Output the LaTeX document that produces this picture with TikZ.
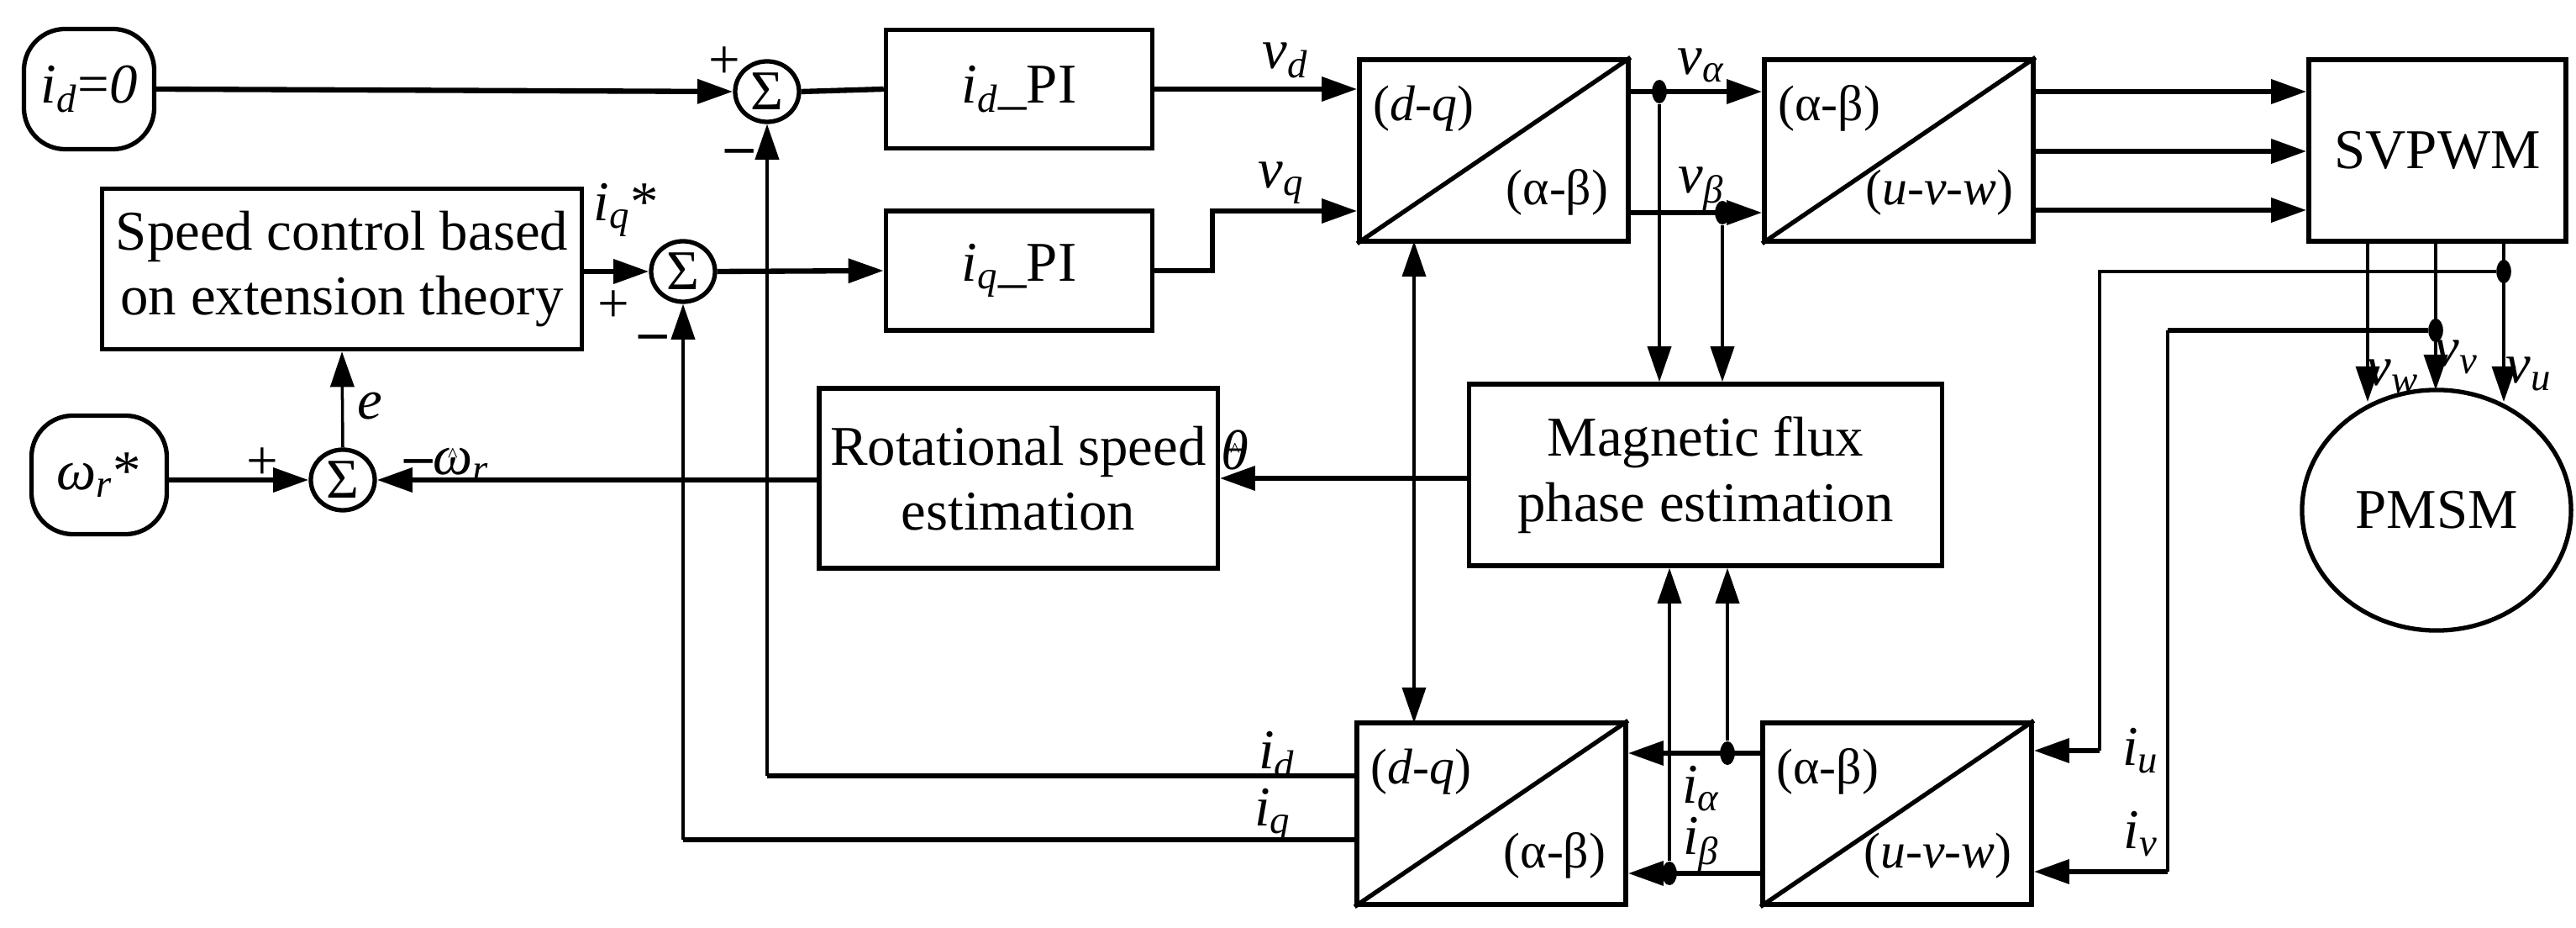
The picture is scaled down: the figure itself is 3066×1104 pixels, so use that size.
\documentclass[tikz,border=0pt]{standalone}
\usepackage{fontspec}
\setmainfont{Liberation Serif}
\usetikzlibrary{arrows.meta,shapes.geometric}
\newcommand{\vr}[2]{\textit{#1}\textsubscript{\textit{#2}}}
\newcommand{\hatc}[1]{\ooalign{\textit{#1}\cr\hidewidth\raisebox{0.22em}{\scriptsize\^{}}\hidewidth\cr}}
\begin{document}
\begin{tikzpicture}[x=0.01cm,y=-0.01cm,
  font=\fontsize{19}{22}\selectfont,
  blk/.style={draw,line width=1.5pt,inner sep=0pt},
  thk/.style={line width=1.8pt},
  thn/.style={line width=1pt},
  arr/.style={-{Triangle[length=12pt,width=8pt]}},
  sm/.style={draw,line width=1.5pt,ellipse,minimum width=0.76cm,minimum height=0.72cm,inner sep=0pt},
  dot/.style={ellipse,fill,inner sep=0pt,minimum width=5pt,minimum height=8pt},
  tf/.style={font=\fontsize{17}{20}\selectfont}]
\useasboundingbox (0,0) rectangle (3066,1104);
% boxes
\node[blk,rounded corners=14pt,minimum width=1.55cm,minimum height=1.43cm] (id0) at (106,106) {\vr{i}{d}=\textit{0}};
\node[blk,rounded corners=14pt,minimum width=1.61cm,minimum height=1.41cm] (wr) at (118,565) {\vr{ω}{r}*};
\node[sm] (s1) at (913,109) {Σ};
\node[sm] (s2) at (813,323) {Σ};
\node[sm] (s3) at (408,571) {Σ};
\node[blk,minimum width=3.17cm,minimum height=1.41cm] (pid) at (1213,106) {\vr{i}{d}\_PI};
\node[blk,minimum width=3.17cm,minimum height=1.42cm] (piq) at (1213,322) {\vr{i}{q}\_PI};
\node[blk,minimum width=5.71cm,minimum height=1.91cm,align=center] (sc) at (407,320) {Speed control based\\on extension theory};
\node[blk,minimum width=4.74cm,minimum height=2.14cm,align=center] (rs) at (1212,569) {Rotational speed\\estimation};
\node[blk,minimum width=5.63cm,minimum height=2.16cm,align=center] (mf) at (2030,565) {Magnetic flux\\phase estimation};
\node[blk,minimum width=3.06cm,minimum height=2.16cm] (svp) at (2901,179) {SVPWM};
\node[blk,ellipse,minimum width=3.2cm,minimum height=2.86cm] (pm) at (2900,607) {PMSM};
% transform boxes
\foreach \n/\cx/\cy/\a/\b in {t1/1778/179/{(\textit{d}-\textit{q})}/{(α-β)},t2/2260/179/{(α-β)}/{(\textit{u}-\textit{v}-\textit{w})},t3/1775/968/{(\textit{d}-\textit{q})}/{(α-β)},t4/2258/968/{(α-β)}/{(\textit{u}-\textit{v}-\textit{w})}}{
  \node[blk,minimum width=3.2cm,minimum height=2.16cm] (\n) at (\cx,\cy) {};
  \draw[line width=1.5pt] (\n.south west) -- (\n.north east);
  \node[tf,anchor=north west] at ([xshift=2,yshift=-6]\n.north west) {\a};
  \node[tf,anchor=south east] at ([xshift=-4,yshift=6]\n.south east) {\b};
}
% top path
\draw[thk,arr] (id0.east) -- (s1.west);
\draw[thk] (s1.east) -- (pid.west);
\draw[thk,arr] (pid.east) -- (pid.east -| t1.west);
\coordinate (q1) at (1443,322); \coordinate (q2) at (1443,251);
\draw[thk,arr] (piq.east) -- (q1) -- (q2) -- (q2 -| t1.west);
\draw[thk,arr] (sc.east |- s2) -- (s2.west);
\draw[thk,arr] (s2.east) -- (piq.west);
\draw[thk,arr] (wr.east |- s3) -- (s3.west);
\draw[thn,arr] (s3.north) -- (sc.south);
\draw[thk,arr] (rs.west |- s3) -- (s3.east);
\draw[thk,arr] (mf.west |- rs) -- (rs.east);
% va vb
\node[dot] (da) at (1975,109) {};
\node[dot] (db) at (2050,253) {};
\draw[thk,arr] (t1.east |- da) -- (t2.west |- da);
\draw[thk,arr] (t1.east |- db) -- (t2.west |- db);
\draw[thn,arr] (da) -- (da |- mf.north);
\draw[thn,arr] (db) -- (db |- mf.north);
\foreach \y in {109,180,250}{\draw[thk,arr] (t2.east |- 0,\y) -- (svp.west |- 0,\y);}
% theta double arrow
\draw[thn,{Triangle[length=12pt,width=8pt]}-{Triangle[length=12pt,width=8pt]}] (1683,287) -- (1683,860);
% svpwm to pmsm
\draw[thn,arr] (2818,287) -- (2818,478);
\draw[thn,arr] (2899,287) -- (2899,464);
\draw[thn,arr] (2980,287) -- (2980,478);
\node[dot] (du) at (2980,323) {};
\node[dot] (dv) at (2899,393) {};
\draw[thn] (du) -- (2499,323) -- (2499,893);
\draw[thk,arr] (2499,893) -- (t4.east |- 0,893);
\draw[thk] (dv) -- (2580,393);
\draw[thn] (2580,393) -- (2580,1037);
\draw[thk,arr] (2580,1037) -- (t4.east |- 0,1037);
% ialpha ibeta
\node[dot] (dia) at (2056,896) {};
\node[dot] (dib) at (1987,1039) {};
\draw[thk,arr] (t4.west |- dia) -- (t3.east |- dia);
\draw[thk,arr] (t4.west |- dib) -- (t3.east |- dib);
\draw[thn,arr] (dia) -- (dia |- mf.south);
\draw[thn,arr] (dib) -- (dib |- mf.south);
% id iq feedback
\draw[thk] (t3.west |- 0,923) -- (913,923);
\draw[thn,arr] (913,923) -- (s1.south);
\draw[thk] (t3.west |- 0,999) -- (813,999);
\draw[thn,arr] (813,999) -- (s2.south);
% labels
\node at (1530,72) {\vr{v}{d}};
\node at (1525,218) {\vr{v}{q}};
\node at (2025,78) {\vr{v}{α}};
\node at (2025,225) {\vr{v}{β}};
\node at (2848,448) {\vr{v}{w}};
\node at (2924,425) {\vr{v}{v}};
\node at (3010,445) {\vr{v}{u}};
\node at (1520,898) {\vr{i}{d}};
\node at (1515,970) {\vr{i}{q}};
\node at (2025,938) {\vr{i}{α}};
\node at (2025,1005) {\vr{i}{β}};
\node at (2548,893) {\vr{i}{u}};
\node at (2548,992) {\vr{i}{v}};
\node at (745,250) {\vr{i}{q}*};
\node at (730,365) {+};
\node at (777,408) {\textbf{\textendash}};
\node at (862,75) {+};
\node at (880,187) {\textbf{\textendash}};
\node at (312,552) {+};
\node at (532,553) {\textbf{\textendash}\hatc{ω}\textsubscript{\textit{r}}};
\node at (1470,535) {\hatc{θ}};
\node at (440,483) {\textit{e}};
\end{tikzpicture}
\end{document}
